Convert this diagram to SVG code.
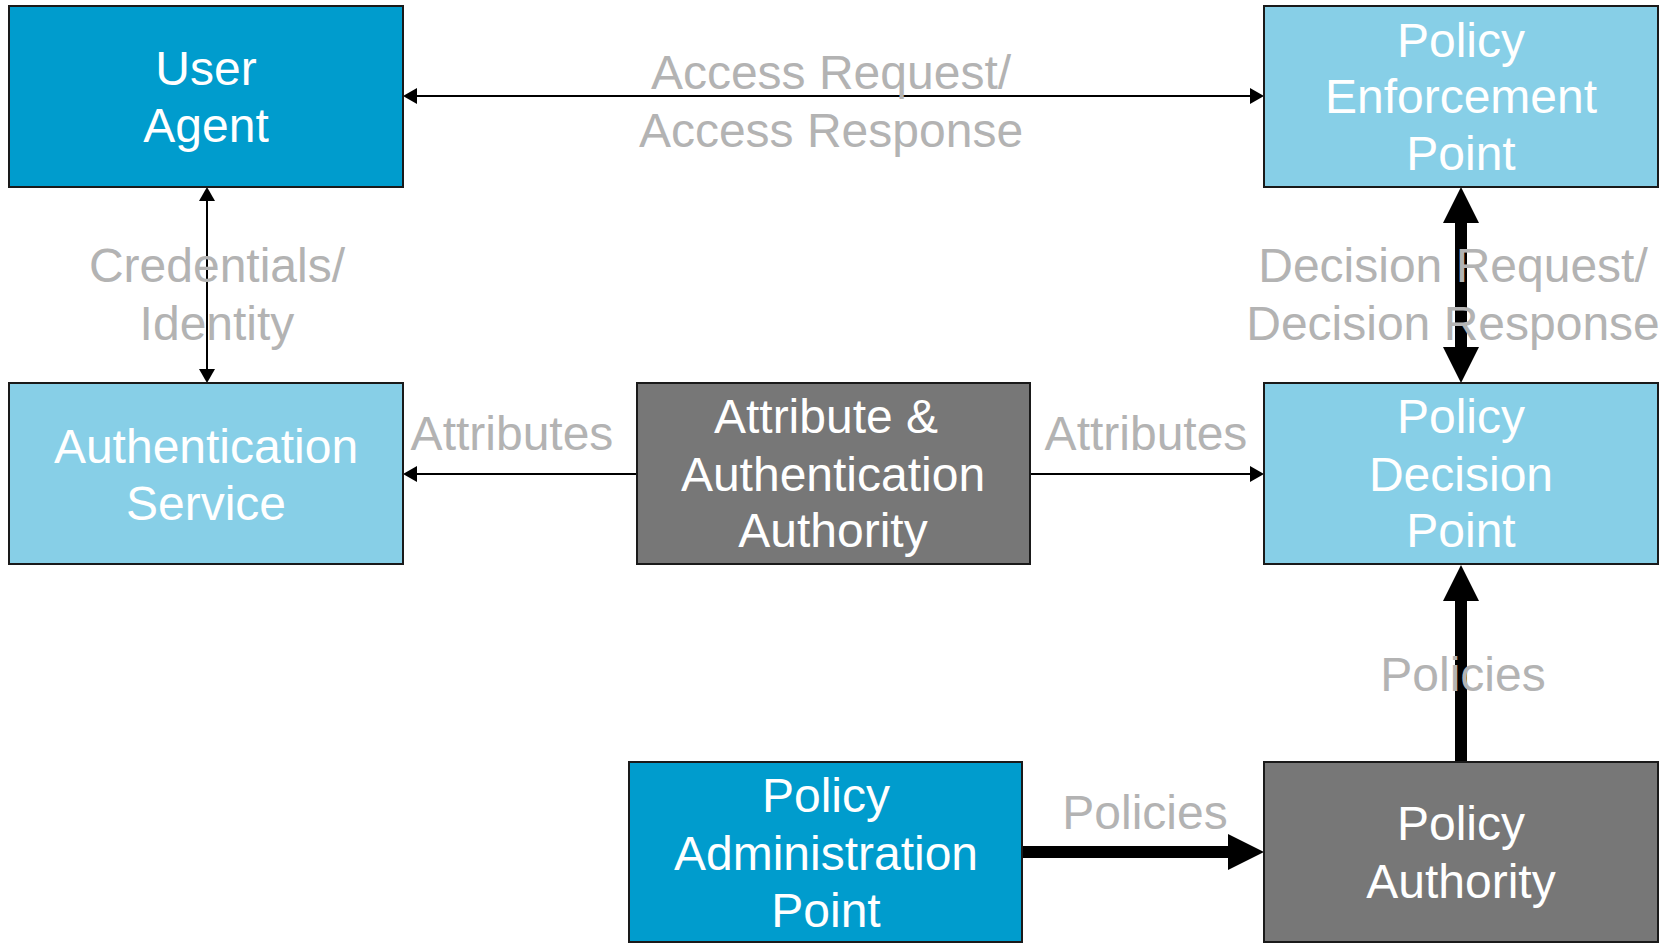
<svg xmlns="http://www.w3.org/2000/svg" width="1669" height="943" viewBox="0 0 1669 943">
  <style>
    .box { stroke: #1a1a1a; stroke-width: 2; }
    .dark { fill: #009ccd; }
    .light { fill: #87cfe7; }
    .grey { fill: #777777; }
    .nt { font-family: "Liberation Sans", Arial, sans-serif; font-size: 48px; fill: #ffffff; text-anchor: middle; }
    .lbl { font-family: "Liberation Sans", Arial, sans-serif; font-size: 48px; fill: #b3b3b3; text-anchor: middle; }
    .thin { stroke: #000000; stroke-width: 2; fill: none; }
    .thick { stroke: #000000; stroke-width: 12; fill: none; }
  </style>
  <defs>
    <!-- small heads: tip sits 14px past the line end -->
    <marker id="small" viewBox="0 0 14 16" refX="1" refY="8" markerWidth="14" markerHeight="16" markerUnits="userSpaceOnUse" orient="auto-start-reverse">
      <path d="M0,0 L14,8 L0,16 Z" fill="#000000"/>
    </marker>
    <!-- big heads: tip sits 34px past the line end -->
    <marker id="big" viewBox="0 0 36 36" refX="2" refY="18" markerWidth="36" markerHeight="36" markerUnits="userSpaceOnUse" orient="auto-start-reverse">
      <path d="M0,0 L36,18 L0,36 Z" fill="#000000"/>
    </marker>
  </defs>

  <rect width="1669" height="943" fill="#ffffff"/>

  <!-- connectors -->
  <g id="connectors">
    <line class="thin" x1="416" y1="96" x2="1251" y2="96" marker-start="url(#small)" marker-end="url(#small)"/>
    <line class="thin" x1="207" y1="200" x2="207" y2="370" marker-start="url(#small)" marker-end="url(#small)"/>
    <line class="thin" x1="636" y1="474" x2="416" y2="474" marker-end="url(#small)"/>
    <line class="thin" x1="1030" y1="474" x2="1251" y2="474" marker-end="url(#small)"/>
    <line class="thick" x1="1461" y1="221" x2="1461" y2="349" marker-start="url(#big)" marker-end="url(#big)"/>
    <line class="thick" x1="1461" y1="761" x2="1461" y2="599" marker-end="url(#big)"/>
    <line class="thick" x1="1022" y1="852" x2="1230" y2="852" marker-end="url(#big)"/>

    <text class="lbl" x="831" y="89">Access Request/</text>
    <text class="lbl" x="831" y="147">Access Response</text>
    <text class="lbl" x="217" y="282">Credentials/</text>
    <text class="lbl" x="217" y="340">Identity</text>
    <text class="lbl" x="1453" y="282">Decision Request/</text>
    <text class="lbl" x="1453" y="340">Decision Response</text>
    <text class="lbl" x="512" y="450">Attributes</text>
    <text class="lbl" x="1146" y="450">Attributes</text>
    <text class="lbl" x="1463" y="691">Policies</text>
    <text class="lbl" x="1145" y="829">Policies</text>
  </g>

  <g id="user-agent">
    <rect class="box dark" x="9" y="6" width="394" height="181"/>
    <text class="nt" x="206" y="85">User</text>
    <text class="nt" x="206" y="142">Agent</text>
  </g>

  <g id="policy-enforcement-point">
    <rect class="box light" x="1264" y="6" width="394" height="181"/>
    <text class="nt" x="1461" y="57">Policy</text>
    <text class="nt" x="1461" y="113">Enforcement</text>
    <text class="nt" x="1461" y="170">Point</text>
  </g>

  <g id="authentication-service">
    <rect class="box light" x="9" y="383" width="394" height="181"/>
    <text class="nt" x="206" y="463">Authentication</text>
    <text class="nt" x="206" y="520">Service</text>
  </g>

  <g id="attribute-authentication-authority">
    <rect class="box grey" x="637" y="383" width="393" height="181"/>
    <text class="nt" x="826" y="433">Attribute &amp;</text>
    <text class="nt" x="833" y="491">Authentication</text>
    <text class="nt" x="833" y="547">Authority</text>
  </g>

  <g id="policy-decision-point">
    <rect class="box light" x="1264" y="383" width="394" height="181"/>
    <text class="nt" x="1461" y="433">Policy</text>
    <text class="nt" x="1461" y="491">Decision</text>
    <text class="nt" x="1461" y="547">Point</text>
  </g>

  <g id="policy-administration-point">
    <rect class="box dark" x="629" y="762" width="393" height="180"/>
    <text class="nt" x="826" y="812">Policy</text>
    <text class="nt" x="826" y="870">Administration</text>
    <text class="nt" x="826" y="927">Point</text>
  </g>

  <g id="policy-authority">
    <rect class="box grey" x="1264" y="762" width="394" height="180"/>
    <text class="nt" x="1461" y="840">Policy</text>
    <text class="nt" x="1461" y="898">Authority</text>
  </g>
</svg>
